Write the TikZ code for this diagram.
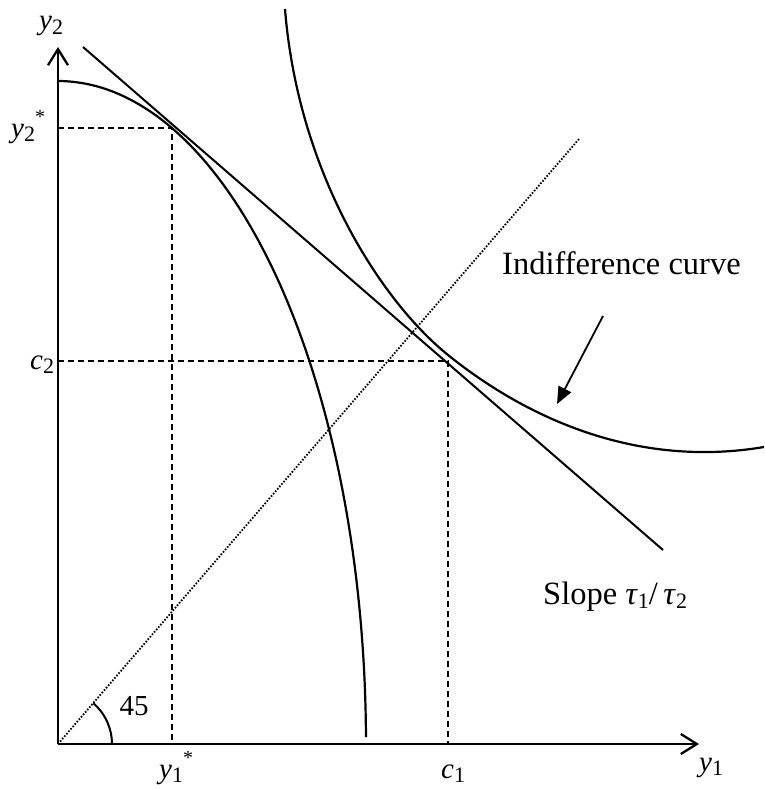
\documentclass[tikz,border=0pt]{standalone}
\usepackage{fontspec}
\setmainfont{Liberation Serif}
\usetikzlibrary{arrows.meta}
\newcommand\mysub[1]{\raisebox{-0.32ex}{\fontsize{22}{22}\selectfont #1}}
\newcommand\mystar{\raisebox{1.05ex}{\fontsize{20}{20}\selectfont *}}
\begin{document}
\begin{tikzpicture}[x=1pt,y=-1pt,
  axis/.style={line width=2.3pt,-{Straight Barb[length=16pt,width=20pt,line width=2.3pt]}},
  curve/.style={line width=2.2pt},
  guide/.style={line width=2.1pt,dash pattern=on 6pt off 4pt},
  dotline/.style={line width=1.8pt,dash pattern=on 1.6pt off 1.6pt},
  lbl/.style={inner sep=0pt,anchor=base west,font=\fontsize{29}{29}\selectfont},
  txt/.style={inner sep=0pt,anchor=base west,font=\fontsize{32.5}{32.5}\selectfont}]
\useasboundingbox (0,0) rectangle (764,789);
% coordinates
\coordinate (O) at (58,744);
\coordinate (Ytop) at (58,47);
\coordinate (Xend) at (699,744);
\coordinate (T1) at (83,47);
\coordinate (T2) at (663,550);
\coordinate (D) at (579,139);
\coordinate (P) at (172,128);
\coordinate (Py) at (58,128);
\coordinate (Px) at (172,744);
\coordinate (C) at (448,361);
\coordinate (Cy) at (58,361);
\coordinate (Cx) at (448,744);
\coordinate (A1) at (603,316);
\coordinate (A2) at (557,404);
\coordinate (R) at (112,744);
\coordinate (I1) at (285,9);
\coordinate (I2) at (448,355);
\coordinate (I3) at (764,447);
% axes
\draw[axis] (O) -- (Ytop);
\draw[axis] (O) -- (Xend);
% 45 degree dotted line and arc
\draw[dotline] (O) -- (D);
\draw[line width=2pt] (R) arc[start angle=0,end angle=-49,radius=54];
% dashed guides
\draw[guide] (Py) -- (P) -- (Px);
\draw[guide] (Cy) -- (C) -- (Cx);
% production possibility frontier
\draw[curve] plot[domain=0.6:90,samples=100,variable=\t] ({58+308*cos(\t)},{744-663*sin(\t)});
% budget line
\draw[line width=2pt] (T1) -- (T2);
% indifference curve
\draw[curve] (I1) .. controls (298,172) and (380,300) .. (I2) .. controls (530,421) and (640,468) .. (I3);
% arrow
\draw[line width=1.8pt,-{Triangle[length=17pt,width=14pt]}] (A1) -- (A2);
% labels
\node[lbl] (ly2) at (39,30) {\textit{y}\mysub{2}};
\node[lbl] (ly2s) at (11,137) {\textit{y}\mysub{2}\mystar};
\node[lbl] (lc2) at (30,369) {\textit{c}\mysub{2}};
\node[lbl] (ly1s) at (159,778) {\textit{y}\mysub{1}\mystar};
\node[lbl] (lc1) at (441,778) {\textit{c}\mysub{1}};
\node[lbl] (ly1) at (699,771) {\textit{y}\mysub{1}};
\node[inner sep=0pt,font=\fontsize{29}{29}\selectfont] (l45) at (134,706) {45};
\node[txt] (lic) at (502,274) {Indifference curve};
\node[txt] (lsl) at (543,604) {Slope \textit{τ}\mysub{1}/\,\textit{τ}\mysub{2}};
\end{tikzpicture}
\end{document}
